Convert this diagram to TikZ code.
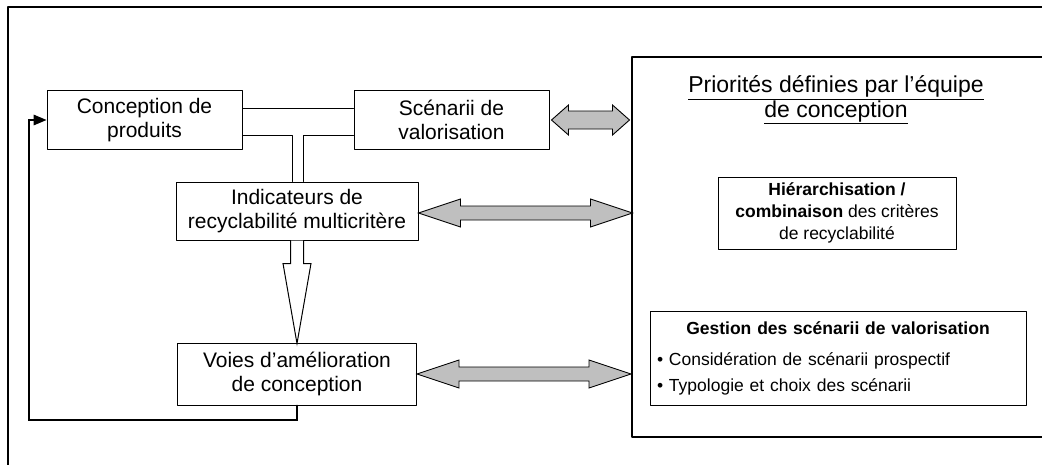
\documentclass[tikz,border=0pt]{standalone}
\usepackage{fontspec}
\setmainfont{Liberation Sans}
\usetikzlibrary{arrows}

\tikzset{
  box/.style={draw, fill=white, line width=1pt, inner sep=0pt, align=center,
    font={\fontsize{21}{24}\selectfont}},
  smallbox/.style={draw, fill=white, line width=1pt, inner sep=0pt,
    font={\fontsize{17.5}{22}\selectfont}},
  grayarrow/.style={draw, line width=0.9pt, fill=gray!50, line join=miter}
}

\begin{document}
\begin{tikzpicture}[line cap=round,line join=round,>=triangle 45,x=1pt,y=-1pt]
\useasboundingbox (0,0) rectangle (1042,464);
\clip (0,0) rectangle (1042,464);
% frames
\draw[line width=1.8pt] (8,480) -- (8,7) -- (1060,7);
\draw[line width=1.3pt] (1060,57) -- (632,57) -- (632,437) -- (1060,437);
% boxes
\node[box, minimum width=195pt, minimum height=59pt] (conc) at (144.5,120) {Conception de\\produits};
\node[box, minimum width=195pt, minimum height=59pt] (scen) at (451.5,120) {Scénarii de\\valorisation};
\node[box, minimum width=242pt, minimum height=58pt] (indic) at (297,211) {Indicateurs de\\recyclabilité multicritère};
\node[box, minimum width=239pt, minimum height=62pt] (voies) at (297,374) {Voies d’amélioration\\de conception};
\node[align=center, font={\fontsize{23}{22}\selectfont}] (prio) at (836,100) {\underline{Priorités définies par l’équipe}\\\underline{de conception}};
\node[smallbox, align=center, minimum width=238pt, minimum height=72pt] (hier) at (837,213) {\textbf{Hiérarchisation /}\\\textbf{combinaison} des critères\\de recyclabilité};
\node[smallbox, align=left, text width=362pt, inner xsep=7pt, minimum height=94pt] (gest) at (838,358) {\makebox[\hsize]{\bfseries Gestion des scénarii de valorisation}\\[9pt]• Considération de scénarii prospectif\\[4pt]• Typologie et choix des scénarii};
\coordinate (back) at (29,420);
% links
\draw[line width=1pt] ([yshift=12pt]conc.east) -- ([yshift=12pt]conc.east -| scen.west);
\draw[line width=1pt] ([yshift=-15pt]conc.east) -| ([xshift=-5pt]indic.north);
\draw[line width=1pt] ([yshift=-15pt]scen.west) -| ([xshift=6pt]indic.north);
\draw[line width=1pt, fill=white, line join=miter] ([xshift=-6.5pt]indic.south) -- ++(0,23) -- ++(-7.5,0) -- ++(14,80) -- ++(14,-80) -- ++(-7.5,0) -- ++(0,-23);
\draw[->, line width=2pt, line join=miter] (voies.south) |- (back) |- (conc.west);
% double arrows
\draw[grayarrow] ([xshift=2pt]scen.east) -- ++(17,-15) -- ++(0,6) -- ++(44,0) -- ++(0,-6) -- ++(17,15) -- ++(-17,15) -- ++(0,-6) -- ++(-44,0) -- ++(0,6) -- cycle;
\draw[grayarrow] ([yshift=-2pt]indic.east) -- ++(42,-14) -- ++(0,7) -- ++(130,0) -- ++(0,-7) -- ++(42,14) -- ++(-42,14) -- ++(0,-7) -- ++(-130,0) -- ++(0,7) -- cycle;
\draw[grayarrow] (voies.east) -- ++(42,-14) -- ++(0,7) -- ++(130,0) -- ++(0,-7) -- ++(42,14) -- ++(-42,14) -- ++(0,-7) -- ++(-130,0) -- ++(0,7) -- cycle;
\end{tikzpicture}
\end{document}
